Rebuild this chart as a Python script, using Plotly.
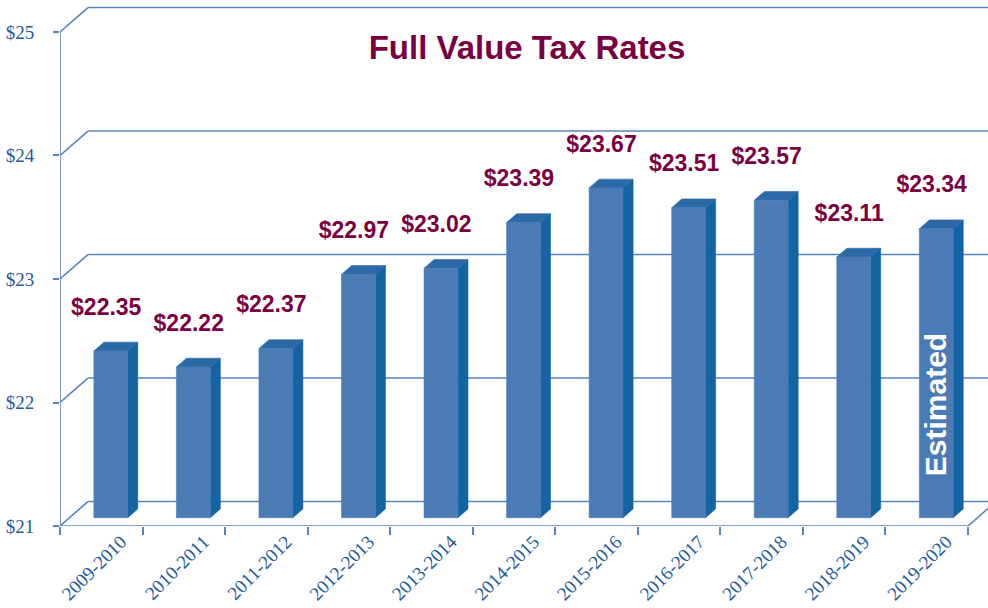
import plotly.graph_objects as go

# ---------------- data ----------------
years = ["2009-2010", "2010-2011", "2011-2012", "2012-2013", "2013-2014", "2014-2015",
         "2015-2016", "2016-2017", "2017-2018", "2018-2019", "2019-2020"]
rates = [22.35, 22.22, 22.37, 22.97, 23.02, 23.39, 23.67, 23.51, 23.57, 23.11, 23.34]
y_ticks = [21, 22, 23, 24, 25]
y_tick_text = ["$21", "$22", "$23", "$24", "$25"]
title_text = "Full Value Tax Rates"
estimated_note = "Estimated"
estimated_index = 10

# ---------------- geometry / style ----------------
BASE = 21.0
DX, DY = 0.339, 0.198          # depth of the 3D box (data units)
F0, F1 = 0.34, 0.70            # bar front/back depth fractions
W = 0.41                       # bar width (category units)
n = len(years)
X_MIN, X_MAX = -0.5, 10.742
Y_MAX = 25.259

GRID = "#5783c3"
FRONT = "#4b7bb5"
TOP = "#2c69a9"
SIDE = "#1463a2"
LABEL = "#7b0041"
AXIS_TEXT = "#1d5b9c"
SERIF = "Liberation Serif, Times New Roman, serif"
SANS = "Liberation Sans, Arial, sans-serif"

fig = go.Figure()

# ---- walls / grid lines ----
gx, gy = [], []
for v in y_ticks:
    gx += [X_MIN, X_MIN + DX, None]
    gy += [v, v + DY, None]
    gx += [X_MIN + DX, X_MAX, None]
    gy += [v + DY, v + DY, None]
gx += [X_MIN, X_MIN, None]
gy += [BASE, y_ticks[-1], None]
floor_end = X_MIN + n
gx += [X_MIN, floor_end, None]
gy += [BASE, BASE, None]
gx += [floor_end, floor_end + DX, None]
gy += [BASE, BASE + DY, None]
fig.add_trace(go.Scatter(x=gx, y=gy, mode="lines", line=dict(color=GRID, width=1.6),
                         hoverinfo="skip", showlegend=False))

# ---- bars ----
fx, fy, tx, ty, sx, sy = [], [], [], [], [], []
ddx, ddy = (F1 - F0) * DX, (F1 - F0) * DY
for i, v in enumerate(rates):
    x0 = i - W / 2 + F0 * DX
    x1 = x0 + W
    y0 = BASE + F0 * DY
    y1 = v + F0 * DY
    fx += [x0, x1, x1, x0, x0, None]
    fy += [y0, y0, y1, y1, y0, None]
    tx += [x0, x1, x1 + ddx, x0 + ddx, x0, None]
    ty += [y1, y1, y1 + ddy, y1 + ddy, y1, None]
    sx += [x1, x1 + ddx, x1 + ddx, x1, x1, None]
    sy += [y0, y0 + ddy, y1 + ddy, y1, y0, None]

for xs, ys, col in [(sx, sy, SIDE), (tx, ty, TOP), (fx, fy, FRONT)]:
    fig.add_trace(go.Scatter(x=xs, y=ys, mode="lines", fill="toself", fillcolor=col,
                             line=dict(color=col, width=0.6), hoverinfo="skip",
                             showlegend=False))

# ---- value labels ----
fig.add_trace(go.Scatter(
    x=[i + 0.06 for i in range(n)],
    y=[v + F0 * DY + 0.34 for v in rates],
    mode="text",
    text=[f"${v:.2f}" for v in rates],
    textposition="middle center",
    textfont=dict(family=SANS, size=23, color=LABEL, weight="bold"),
    hoverinfo="skip", showlegend=False, cliponaxis=False))

# ---- "Estimated" note ----
fig.add_annotation(x=estimated_index + F0 * DX, y=21.98, text=f"<b>{estimated_note}</b>",
                   textangle=-90, showarrow=False,
                   font=dict(family=SANS, size=30, color="white"))

fig.update_layout(
    width=988, height=608,
    margin=dict(l=60, r=0, t=0, b=82),
    paper_bgcolor="white", plot_bgcolor="white",
    title=dict(text=f"<b>{title_text}</b>", x=527 / 988, xanchor="center",
               y=1 - 47 / 608, yanchor="middle",
               font=dict(family=SANS, size=33, color=LABEL)),
    xaxis=dict(range=[X_MIN, X_MAX], showgrid=False, zeroline=False, showline=False,
               tickmode="array", tickvals=[i + 0.24 for i in range(n)], ticktext=years,
               tickangle=-45, ticks="",
               tickfont=dict(family=SERIF, size=19, color=AXIS_TEXT),
               minor=dict(tickmode="array", tickvals=[X_MIN + k for k in range(n + 1)],
                          ticks="outside", ticklen=8, tickwidth=1.6, tickcolor=GRID,
                          showgrid=False)),
    yaxis=dict(range=[BASE, Y_MAX], showgrid=False, zeroline=False, showline=False,
               tickmode="array", tickvals=y_ticks, ticktext=y_tick_text,
               ticks="outside", ticklen=6, tickwidth=1.6, tickcolor=GRID,
               ticklabelstandoff=15,
               tickfont=dict(family=SERIF, size=19, color=AXIS_TEXT)),
)

fig.write_html("out.html")
